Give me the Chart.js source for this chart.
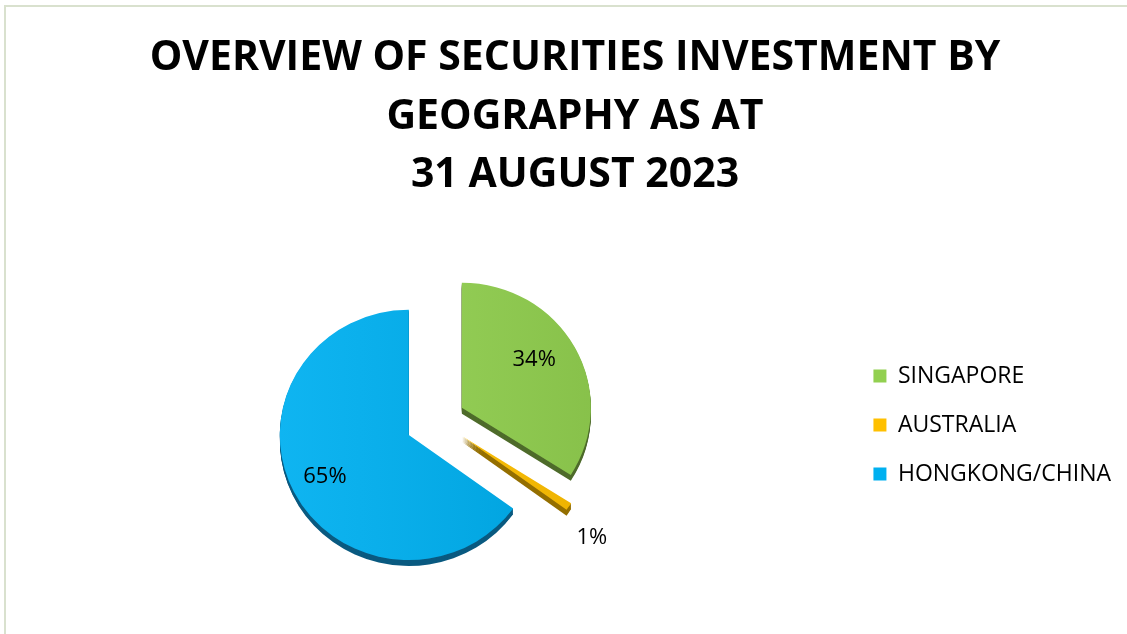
<!DOCTYPE html>
<html lang="en">
  <head>
    <title>Securities Investment by Geography</title>
    <meta charset="utf-8" />
    <script src="https://cdn.jsdelivr.net/npm/chart.js@4.4.0/dist/chart.umd.min.js"></script>
    <style>
      html, body {
        margin: 0;
        padding: 0;
        background: #fff;
        overflow: hidden;
      }
      .frame {
        position: absolute;
        left: 4px;
        top: 5px;
        width: 1140px;
        height: 640px;
        border-top: 2px solid #d9e1ce;
        border-left: 2px solid #d9e1ce;
      }
      #chart {
        position: absolute;
        left: 0;
        top: 0;
      }
    </style>
  </head>
  <body>
    <div class="frame"></div>
    <canvas id="chart" width="1127" height="634"></canvas>

    <script>
      // data
      var titleLines = ["OVERVIEW OF SECURITIES INVESTMENT BY", "GEOGRAPHY AS AT", "31 AUGUST 2023"];
      var regions = ["SINGAPORE", "AUSTRALIA", "HONGKONG/CHINA"];
      var shares = [34, 1, 65];

      var faceColors = ["#92d050", "#ffc000", "#00b0f0"];
      var sideColors = ["#4e6b2b", "#946f00", "#0a5a80"];

      // fake 3d look: exploded slices, a little tilt, a dark rim
      var explode = [27, 29, 33];
      var tilt = 0.97;
      var depth = 6;
      // where the % labels sit: fraction of radius, and a small turn (rad)
      var labelDist = [0.68, 1.29, 0.73];
      var labelTurn = [-0.1, 0.08, 0];
      var legendShift = 112;

      function placeArc(ctx, arc, i) {
        var p = arc.getProps(["x", "y", "startAngle", "endAngle"], true);
        var mid = (p.startAngle + p.endAngle) / 2;
        ctx.translate(p.x, p.y);
        ctx.scale(1, tilt);
        ctx.translate(Math.cos(mid) * explode[i], Math.sin(mid) * explode[i]);
        ctx.translate(-p.x, -p.y);
      }

      function wedge(ctx, arc, dy) {
        var p = arc.getProps(["x", "y", "startAngle", "endAngle", "outerRadius"], true);
        ctx.beginPath();
        ctx.moveTo(p.x, p.y + dy);
        ctx.arc(p.x, p.y + dy, p.outerRadius, p.startAngle, p.endAngle);
        ctx.closePath();
      }

      var pie3d = {
        id: "pie3d",
        afterLayout: function (chart) {
          // legend sits level with the pie, not at the top of the area
          chart.legend.top += legendShift;
          chart.legend.bottom += legendShift;
        },
        beforeDatasetDraw: function (chart, args) {
          var ctx = chart.ctx;
          var arcs = args.meta.data;

          // rims first
          arcs.forEach(function (arc, i) {
            ctx.save();
            placeArc(ctx, arc, i);
            ctx.fillStyle = sideColors[i];
            for (var k = depth; k >= 1; k--) {
              wedge(ctx, arc, k);
              ctx.fill();
            }
            ctx.restore();
          });

          // then the faces with a soft shading
          arcs.forEach(function (arc, i) {
            ctx.save();
            placeArc(ctx, arc, i);
            arc.draw(ctx);
            var p = arc.getProps(["x", "outerRadius"], true);
            var g = ctx.createLinearGradient(p.x - p.outerRadius, 0, p.x + p.outerRadius, 0);
            g.addColorStop(0, "rgba(255,255,255,0.06)");
            g.addColorStop(1, "rgba(0,0,0,0.07)");
            wedge(ctx, arc, 0);
            ctx.fillStyle = g;
            ctx.fill();
            ctx.restore();
          });
          return false;
        },
        afterDatasetsDraw: function (chart) {
          var ctx = chart.ctx;
          var meta = chart.getDatasetMeta(0);
          ctx.save();
          ctx.font = "22px 'Open Sans', sans-serif";
          ctx.fillStyle = "#000";
          ctx.textAlign = "center";
          ctx.textBaseline = "middle";
          meta.data.forEach(function (arc, i) {
            var p = arc.getProps(["x", "y", "startAngle", "endAngle", "outerRadius"], true);
            var mid = (p.startAngle + p.endAngle) / 2;
            var ex = p.x + Math.cos(mid) * explode[i];
            var ey = p.y + Math.sin(mid) * explode[i] * tilt;
            var a = mid + labelTurn[i];
            var dist = p.outerRadius * labelDist[i];
            ctx.fillText(shares[i] + "%", ex + Math.cos(a) * dist, ey + Math.sin(a) * dist * tilt);
          });
          ctx.restore();
        },
      };

      Chart.defaults.font.family = "'Open Sans', sans-serif";
      Chart.defaults.color = "#000";

      var ctx = document.getElementById("chart");
      var myPie = new Chart(ctx, {
        type: "pie",
        data: {
          labels: regions,
          datasets: [
            {
              data: shares,
              backgroundColor: faceColors,
              borderWidth: 0,
            },
          ],
        },
        options: {
          responsive: false,
          animation: false,
          radius: 129,
          layout: {
            padding: { left: 29, right: 6, top: 0, bottom: 8 },
          },
          plugins: {
            title: {
              display: true,
              text: titleLines,
              color: "#000",
              font: { size: 41, weight: "bold", lineHeight: 1.43 },
              padding: { top: 29, bottom: 10 },
            },
            legend: {
              position: "right",
              labels: {
                boxWidth: 13,
                boxHeight: 13,
                padding: 26,
                color: "#000",
                font: { size: 23 },
              },
            },
            tooltip: { enabled: false },
          },
        },
        plugins: [pie3d],
      });
    </script>
  </body>
</html>
